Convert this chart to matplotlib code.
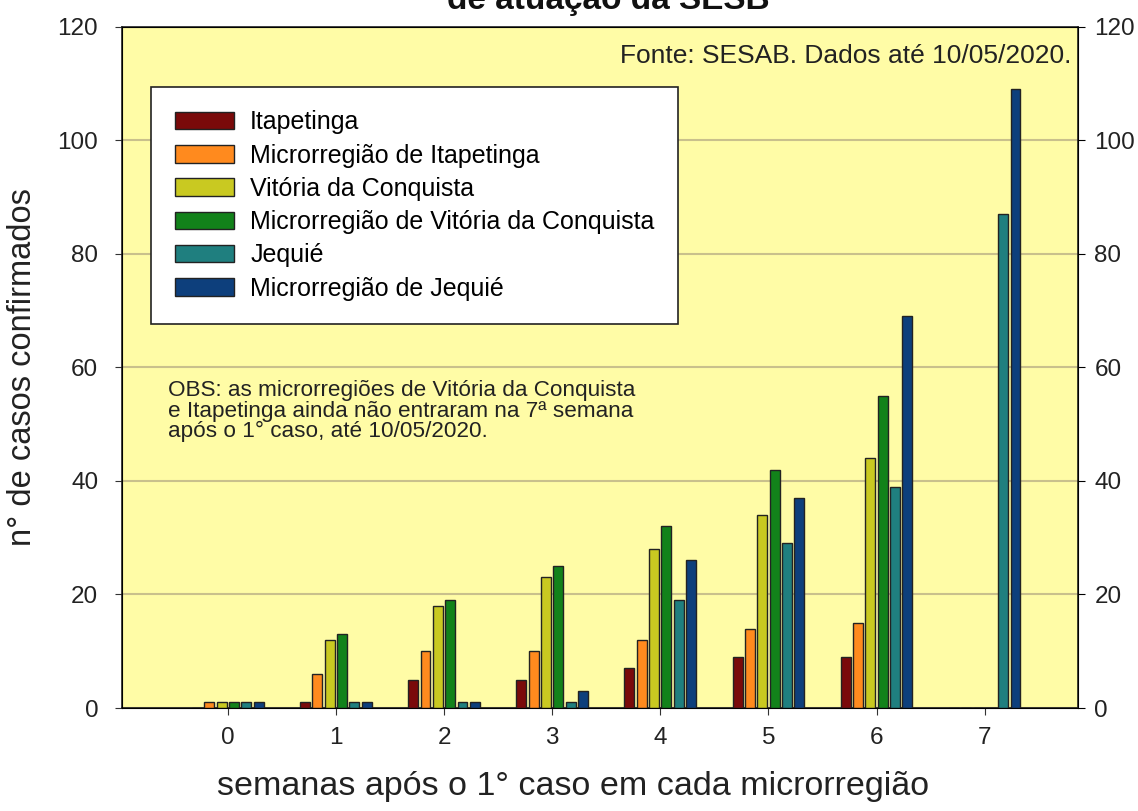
import numpy as np
import matplotlib.pyplot as plt

# Data
weeks = [0, 1, 2, 3, 4, 5, 6, 7]
series_names = ["Itapetinga", "Microrregião de Itapetinga", "Vitória da Conquista",
                "Microrregião de Vitória da Conquista", "Jequié", "Microrregião de Jequié"]
itapetinga = [0, 1, 5, 5, 7, 9, 9, 0]
mr_itapetinga = [1, 6, 10, 10, 12, 14, 15, 0]
vitoria = [1, 12, 18, 23, 28, 34, 44, 0]
mr_vitoria = [1, 13, 19, 25, 32, 42, 55, 0]
jequie = [1, 1, 1, 1, 19, 29, 39, 87]
mr_jequie = [1, 1, 1, 3, 26, 37, 69, 109]
colors = ["#7a0a0a", "#ff8a1e", "#c9c921", "#12821a", "#1f7f7f", "#0d3f7c"]

series = [itapetinga, mr_itapetinga, vitoria, mr_vitoria, jequie, mr_jequie]

plt.rcParams["font.family"] = ["Liberation Sans", "DejaVu Sans"]

fig = plt.figure(figsize=(11.38, 8.11), dpi=100)
ax = fig.add_axes([0.107, 0.127, 0.840, 0.840])
ax.set_facecolor("#fffca6")

x = np.array(weeks)
slot = 0.114
width = 0.092
for i, (vals, name, c) in enumerate(zip(series, series_names, colors)):
    offset = (i - 2.5) * slot
    ax.bar(x + offset, vals, width=width, color=c, edgecolor="#222222",
           linewidth=1.0, label=name, zorder=3)

ax.set_xlim(-0.98, 7.86)
ax.set_ylim(0, 120)
ax.set_yticks(range(0, 121, 20))
ax.set_xticks(weeks)
ax.yaxis.grid(True, color="#c9c08c", linewidth=1.5, zorder=0)
ax.tick_params(axis="both", labelsize=17.5, direction="out", length=5, color="#333333",
               labelcolor="#222222")
ax.tick_params(axis="y", pad=12)
ax.tick_params(axis="x", pad=9)
for s in ax.spines.values():
    s.set_color("#222222")
    s.set_linewidth(1.2)

ax2 = ax.twinx()
ax2.set_ylim(0, 120)
ax2.set_yticks(range(0, 121, 20))
ax2.tick_params(axis="y", labelsize=17.5, direction="out", length=5, pad=7,
                labelcolor="#222222")

ax.set_ylabel("n° de casos confirmados", fontsize=23.5, labelpad=14, color="#222222")
fig.text(0.504, 1 - 786 / 811, "semanas após o 1° caso em cada microrregião",
         ha="center", va="center", fontsize=24.5, color="#222222")

leg = ax.legend(loc="upper left", bbox_to_anchor=(0.031, 0.912), fontsize=18,
                frameon=True, fancybox=False, edgecolor="#222222", framealpha=1,
                handlelength=2.35, handleheight=0.7, labelspacing=0.37,
                borderpad=0.95, handletextpad=0.65, borderaxespad=0)
leg.get_frame().set_linewidth(1.2)
leg.set_zorder(5)

ax.text(0.993, 0.975, "Fonte: SESAB. Dados até 10/05/2020.", transform=ax.transAxes,
        ha="right", va="top", fontsize=19, color="#222222")
ax.text(0.048, 0.481, "OBS: as microrregiões de Vitória da Conquista\n"
        "e Itapetinga ainda não entraram na 7ª semana\n"
        "após o 1° caso, até 10/05/2020.", transform=ax.transAxes,
        ha="left", va="top", fontsize=16.2, color="#222222", linespacing=0.95)

fig.text(608 / 1138, 1 - 9 / 811, "de atuação da SESB", ha="center", va="baseline",
         fontsize=24, fontweight="bold", color="#111111")

fig.savefig("out.png", dpi=100)
